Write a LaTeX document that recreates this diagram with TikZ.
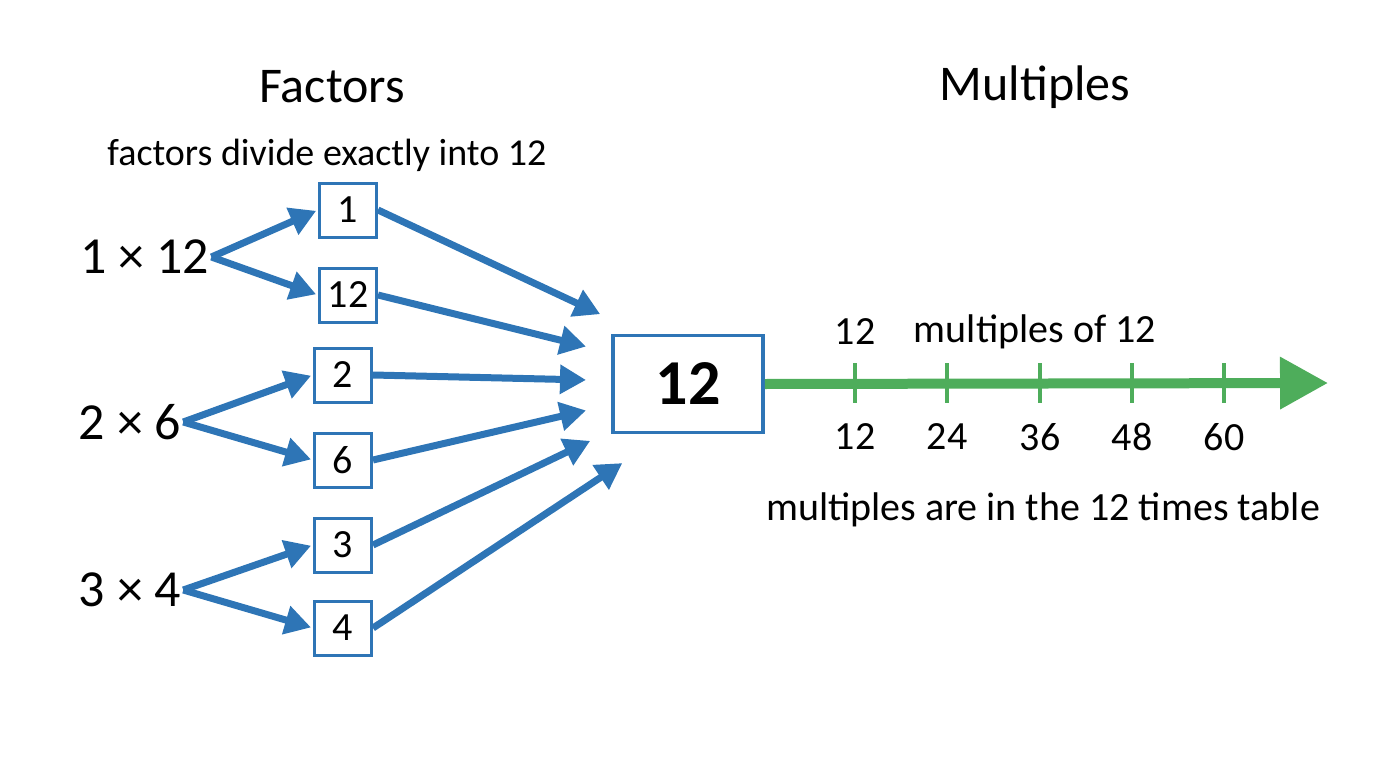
\documentclass[tikz,border=0pt]{standalone}
\usepackage{fontspec}
\setmainfont{Carlito}
\usetikzlibrary{arrows.meta}
\definecolor{bl}{HTML}{2E75B6}
\definecolor{gr}{HTML}{4EAD5B}
\begin{document}
\begin{tikzpicture}[x=1pt,y=-1pt,
 fb/.style={draw=bl,line width=3pt,minimum width=57pt,minimum height=54pt,inner sep=0pt,font=\fontsize{40}{40}\selectfont},
 ba/.style={bl,line width=7pt,-{Triangle[length=26pt,width=28pt]},shorten >=2pt},
 lab/.style={font=\fontsize{52}{52}\selectfont,inner sep=2pt},
 t/.style={font=\fontsize{40}{40}\selectfont}]
\useasboundingbox (0,0) rectangle (1376,768);
\node[font=\fontsize{50}{50}\selectfont] (hf) at (332,87) {Factors};
\node[font=\fontsize{50}{50}\selectfont] (hm) at (1035,87) {Multiples};
\node[font=\fontsize{38}{38}\selectfont] (sf) at (327,155) {factors divide exactly into 12};
\node[lab] (a) at (145,257) {1 × 12};
\node[lab] (b) at (130,422) {2 × 6};
\node[lab] (c) at (130,590) {3 × 4};
\node[fb] (f1) at (348,210) {1};
\node[fb] (f12) at (348,295) {12};
\node[fb] (f2) at (343,375) {2};
\node[fb] (f6) at (343,460) {6};
\node[fb] (f3) at (343,545) {3};
\node[fb] (f4) at (343,628) {4};
\node[draw=bl,line width=3.5pt,minimum width=150pt,minimum height=97pt,font=\bfseries\fontsize{64}{64}\selectfont] (big) at (688,384) {12};
\coordinate (e1) at (602,315);
\coordinate (e12) at (588,347);
\coordinate (e2) at (588,380);
\coordinate (e6) at (588,410);
\coordinate (e3) at (592,440);
\coordinate (e4) at (624,462);
\draw[ba] (a.east) -- (f1.west);
\draw[ba] (a.east) -- (f12.west);
\draw[ba] (b.east) -- (f2.west);
\draw[ba] (b.east) -- (f6.west);
\draw[ba] (c.east) -- (f3.west);
\draw[ba] (c.east) -- (f4.west);
\draw[ba] (f1.east) -- (e1);
\draw[ba] (f12.east) -- (e12);
\draw[ba] (f2.east) -- (e2);
\draw[ba] (f6.east) -- (e6);
\draw[ba] (f3.east) -- (e3);
\draw[ba] (f4.east) -- (e4);
\coordinate (gend) at (1328,383);
\draw[gr,line width=10pt,-{Triangle[length=48pt,width=50pt]}] (big.east) -- (gend);
\foreach \x/\v in {855/12,947/24,1040/36,1132/48,1224/60}{
 \draw[gr,line width=3.5pt] (\x,363) -- (\x,403);
 \node[t] (m\v) at (\x,437) {\v};
}
\node[t] (k) at (855,332) {12};
\node[t] (km) at (1035,332) {multiples of 12};
\node[t] (note) at (1043,510) {multiples are in the 12 times table};
\end{tikzpicture}
\end{document}
